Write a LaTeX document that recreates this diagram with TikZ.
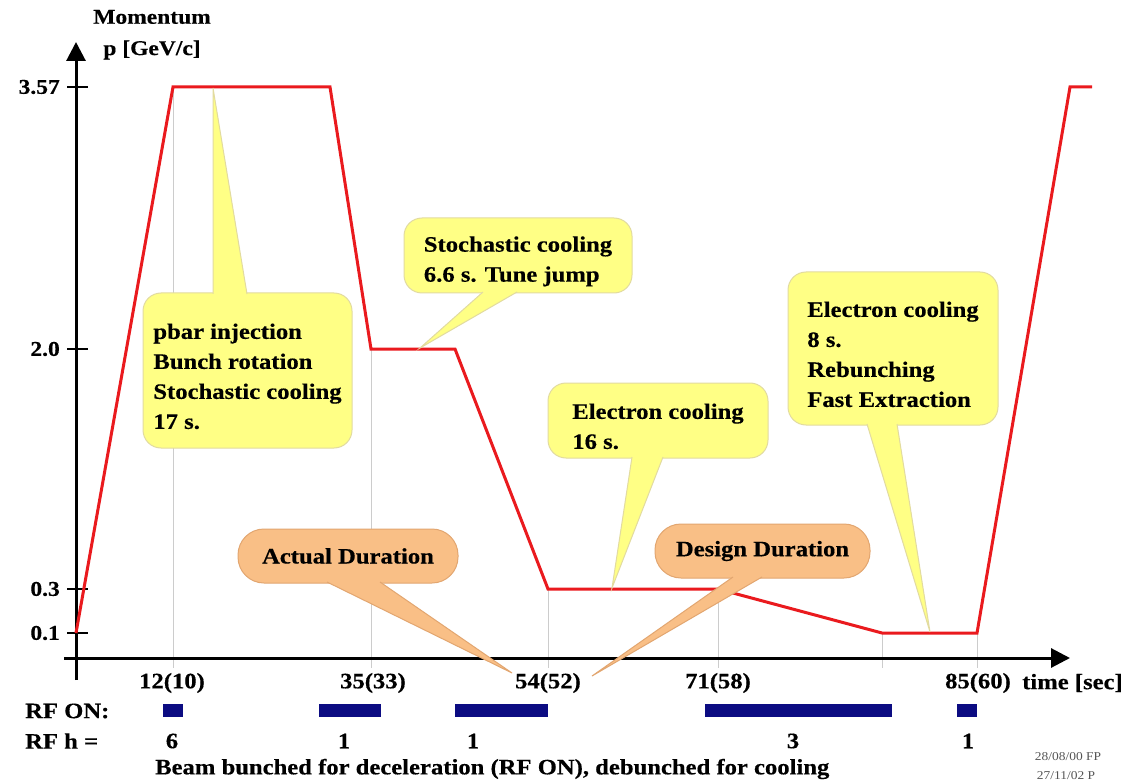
\documentclass[tikz,border=0pt]{standalone}
\usepackage{fontspec}
\setmainfont{Liberation Serif}[FakeStretch=1.12, BoldFeatures={FakeBold=0.4}]
\usetikzlibrary{arrows.meta}
\definecolor{curvered}{HTML}{EA1A1E}
\definecolor{yfill}{HTML}{FFFF85}
\definecolor{yline}{HTML}{E2DBA0}
\definecolor{ofill}{HTML}{F9BF86}
\definecolor{oline}{HTML}{E2A670}
\definecolor{navyb}{HTML}{0C0C82}
\definecolor{gridg}{HTML}{CCCCCC}
\definecolor{notegray}{HTML}{555555}
\newcommand\bigfont{\fontsize{22}{30}\selectfont\bfseries}
\newcommand\axfont{\fontsize{21}{26}\selectfont\bfseries}
\newcommand\topfix{\rule{0pt}{27pt}}
\tikzset{
  axisline/.style={line width=3pt, black},
  tickline/.style={line width=2.5pt, black},
  gridline/.style={gridg, line width=0.8pt},
  curve/.style={curvered, line width=3pt, line join=miter},
  ybox/.style={draw=yline, fill=yfill, line width=1pt, rounded corners=18pt, inner sep=0pt, align=left, font=\bigfont, text=black},
  obox/.style={draw=oline, fill=ofill, line width=1pt, rounded corners=26pt, inner sep=0pt, font=\bigfont, text=black},
  ywedge/.style={fill=yfill},
  yedge/.style={draw=yline, line width=1pt},
  owedge/.style={fill=ofill},
  oedge/.style={draw=oline, line width=1pt},
  tlabel/.style={font=\bigfont, inner sep=0pt},
  rfbar/.style={fill=navyb, draw=none},
}
\begin{document}
\begin{tikzpicture}[x=1pt,y=-1pt]
\useasboundingbox[fill=white] (0,0) rectangle (1126,783);

% ---- coordinates of the curve
\coordinate (p0) at (76,633);
\coordinate (p1) at (173,87);
\coordinate (p2) at (330,87);
\coordinate (p3) at (371,349);
\coordinate (p4) at (455,349);
\coordinate (p5) at (548,589);
\coordinate (p6) at (718,589);
\coordinate (p7) at (882,633);
\coordinate (p8) at (977,633);
\coordinate (p9) at (1070,87);
\coordinate (p10) at (1092,87);

% ---- grid lines
\foreach \n/\x/\yt in {g1/173/87, g2/371/349, g3/548/589, g4/718/589, g5/882/633, g6/977/633}{
  \coordinate (\n t) at (\x,\yt);
  \coordinate (\n b) at (\x,668);
  \draw[gridline] (\n t) -- (\n b);
}

% ---- axes
\coordinate (yb) at (76,680);
\coordinate (yt) at (76,42);
\coordinate (xl) at (64,658);
\coordinate (xr) at (1070,658);
\draw[axisline, -{Triangle[length=19pt,width=19pt]}] (yb) -- (yt);
\draw[axisline, -{Triangle[length=19pt,width=19pt]}] (xl) -- (xr);

% ---- y ticks
\foreach \n/\y/\t in {t1/87/3.57, t2/349/2.0, t3/589/0.3, t4/633/0.1}{
  \coordinate (\n a) at (67,\y);
  \coordinate (\n b) at (88,\y);
  \draw[tickline] (\n a) -- (\n b);
  \node[font=\axfont, anchor=east, inner sep=0pt] (\n l) at (60,\y) {\t};
}

% ---- axis titles
\node[font=\axfont, inner sep=0pt] (ytitle1) at (152,17) {Momentum};
\node[font=\axfont, inner sep=0pt] (ytitle2) at (152,50) {p [GeV/c]};

% ---- curve
\draw[curve] (p0) -- (p1) -- (p2) -- (p3) -- (p4) -- (p5) -- (p6) -- (p7) -- (p8) -- (p9) -- (p10);

% ---- x labels
\node[tlabel] (x1) at (172,683) {12(10)};
\node[tlabel] (x2) at (373,683) {35(33)};
\node[tlabel] (x3) at (548,683) {54(52)};
\node[tlabel] (x4) at (718,683) {71(58)};
\node[tlabel] (x5) at (978,683) {85(60)};
\node[tlabel, anchor=west] (xt) at (1022,683) {time [sec]};

% ---- RF rows
\node[tlabel, anchor=west] (rfon) at (25,711) {RF ON:};
\node[tlabel, anchor=west] (rfh) at (25,741) {RF h =};
\foreach \n/\a/\b in {b1/163/183, b2/319/381, b3/455/548, b4/705/892, b5/957/977}{
  \path[rfbar] (\a,704) rectangle (\b,717);
}
\node[tlabel] (h1) at (172,741) {6};
\node[tlabel] (h2) at (344,741) {1};
\node[tlabel] (h3) at (473,741) {1};
\node[tlabel] (h4) at (793,741) {3};
\node[tlabel] (h5) at (968,741) {1};
\node[tlabel, anchor=west] (note) at (155,769) {Beam bunched for deceleration (RF ON), debunched for cooling};
\node[font=\fontsize{12}{14}\selectfont, text=notegray, inner sep=0pt] (date1) at (1068,757) {28/08/00 FP};
\node[font=\fontsize{12}{14}\selectfont, text=notegray, inner sep=0pt] (date2) at (1066,776) {27/11/02 P};

% ---- yellow callouts
\node[ybox, minimum width=209pt, minimum height=155pt] (c1) at (247.5,370.5)
  {\topfix pbar injection\\Bunch rotation\\Stochastic cooling\\17 s.};
\coordinate (c1a) at (213,294); \coordinate (c1b) at (247,294); \coordinate (c1t) at (213,88);
\path[ywedge] (c1a) -- (c1t) -- (c1b) -- cycle;
\draw[yedge] (c1a) -- (c1t) -- (c1b);

\node[ybox, minimum width=228pt, minimum height=75pt] (c2) at (518,255.5)
  {\topfix Stochastic cooling\\6.6 s. Tune jump};
\coordinate (c2a) at (483,292); \coordinate (c2b) at (517,292); \coordinate (c2t) at (420,348);
\path[ywedge] (c2a) -- (c2t) -- (c2b) -- cycle;
\draw[yedge] (c2a) -- (c2t) -- (c2b);

\node[ybox, minimum width=220pt, minimum height=75pt] (c3) at (658,420.5)
  {\topfix Electron cooling\\16 s.};
\coordinate (c3a) at (632,457); \coordinate (c3b) at (663,457); \coordinate (c3t) at (612,588);
\path[ywedge] (c3a) -- (c3t) -- (c3b) -- cycle;
\draw[yedge] (c3a) -- (c3t) -- (c3b);

\node[ybox, minimum width=210pt, minimum height=153pt] (c4) at (893,348.5)
  {\topfix Electron cooling\\8 s.\\Rebunching\\Fast Extraction};
\coordinate (c4a) at (867,424); \coordinate (c4b) at (897,424); \coordinate (c4t) at (930,632);
\path[ywedge] (c4a) -- (c4t) -- (c4b) -- cycle;
\draw[yedge] (c4a) -- (c4t) -- (c4b);

% ---- orange callouts
\node[obox, minimum width=220pt, minimum height=54pt] (o1) at (348,556) {Actual Duration};
\coordinate (o1a) at (327,582); \coordinate (o1b) at (380,582); \coordinate (o1t) at (512,673);
\path[owedge] (o1a) -- (o1t) -- (o1b) -- cycle;
\draw[oedge] (o1a) -- (o1t) -- (o1b);

\node[obox, minimum width=215pt, minimum height=54pt] (o2) at (762.5,551) {Design Duration};
\coordinate (o2a) at (733,577); \coordinate (o2b) at (762,577); \coordinate (o2t) at (592,676);
\path[owedge] (o2a) -- (o2t) -- (o2b) -- cycle;
\draw[oedge] (o2a) -- (o2t) -- (o2b);
\end{tikzpicture}
\end{document}
